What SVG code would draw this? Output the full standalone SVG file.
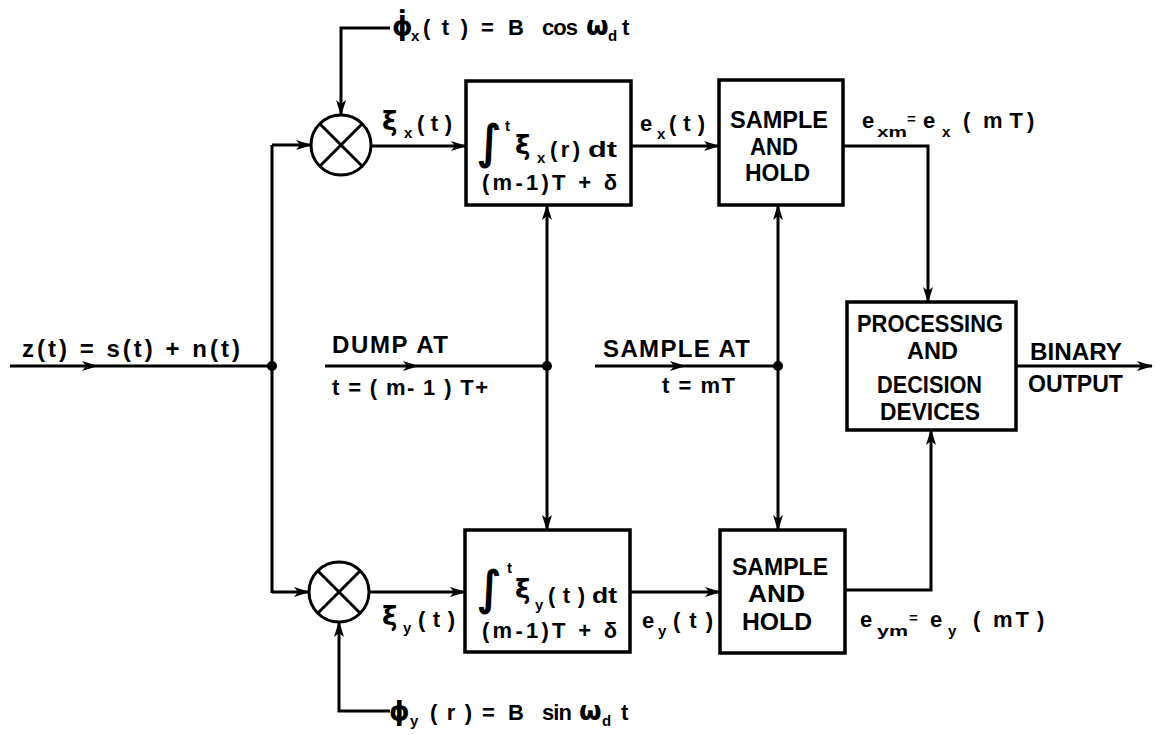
<svg xmlns="http://www.w3.org/2000/svg" width="1156" height="735" viewBox="0 0 1156 735">
<defs>
<style>
.ln{fill:none;stroke:#000;stroke-width:3;stroke-linejoin:miter;stroke-linecap:butt}
.box{fill:#fff;stroke:#000;stroke-width:3.5}
.t{font-family:"Liberation Sans",Arial,sans-serif;font-weight:bold;font-size:22px;fill:#000}
.g{font-family:"DejaVu Sans",sans-serif;font-weight:bold;font-size:26px;fill:#000}
.b{font-family:"Liberation Sans",Arial,sans-serif;font-weight:bold;font-size:24px;fill:#000}
.s{font-family:"Liberation Sans",Arial,sans-serif;font-weight:bold;font-size:15px;fill:#000}
.i{font-family:"DejaVu Sans",sans-serif;font-size:46px;fill:#000;stroke:#000;stroke-width:1.5}
.dot{fill:#000}
</style>
<marker id="ah" viewBox="0 0 16 10" refX="15" refY="5" markerWidth="16" markerHeight="10" orient="auto" markerUnits="userSpaceOnUse">
<path d="M0,0 L16,5 L0,10 L4,5 z" fill="#000"/>
</marker>
</defs>

<g id="connectors">
<path class="ln" d="M10,366 L97,366 L272,366" marker-mid="url(#ah)"/>
<path class="ln" d="M272,145 L272,593"/>
<path class="ln" d="M272,145 L311,145" marker-end="url(#ah)"/>
<path class="ln" d="M272,592 L309,592" marker-end="url(#ah)"/>
<circle class="dot" cx="272" cy="366" r="5"/>
<path class="ln" d="M390,28 L341,28 L341,115" marker-end="url(#ah)"/>
<path class="ln" d="M390,711 L339,711 L339,622" marker-end="url(#ah)"/>
<path class="ln" d="M371,146 L466,146" marker-end="url(#ah)"/>
<path class="ln" d="M631,146 L719,146" marker-end="url(#ah)"/>
<path class="ln" d="M843,146 L928,146 L928,302" marker-end="url(#ah)"/>
<path class="ln" d="M369,592 L465,592" marker-end="url(#ah)"/>
<path class="ln" d="M630,592 L720,592" marker-end="url(#ah)"/>
<path class="ln" d="M845,590 L931,590 L931,430" marker-end="url(#ah)"/>
<path class="ln" d="M1016,366 L1152,366" marker-end="url(#ah)"/>
<path class="ln" d="M325,366 L418,366 L547,366" marker-mid="url(#ah)"/>
<path class="ln" d="M547,366 L547,205" marker-end="url(#ah)"/>
<path class="ln" d="M547,366 L547,530" marker-end="url(#ah)"/>
<circle class="dot" cx="547" cy="366" r="5"/>
<path class="ln" d="M595,366 L685,366 L778,366" marker-mid="url(#ah)"/>
<path class="ln" d="M778,366 L778,205" marker-end="url(#ah)"/>
<path class="ln" d="M778,366 L778,530" marker-end="url(#ah)"/>
<circle class="dot" cx="778" cy="366" r="5"/>
</g>

<g id="mult_x">
<circle class="ln" cx="341" cy="145" r="30"/>
<path class="ln" d="M320,124 L362,166 M362,124 L320,166"/>
</g>
<g id="mult_y">
<circle class="ln" cx="339" cy="592" r="30"/>
<path class="ln" d="M318,571 L360,613 M360,571 L318,613"/>
</g>

<g id="int_x">
<rect class="box" x="466" y="81" width="165" height="124"/>
<text class="i" x="477" y="158">∫</text>
<text class="s" x="505" y="131">t</text>
<text class="g" x="515" y="154">ξ</text>
<text class="s" x="537" y="163">x</text>
<text class="t" x="550" y="157" textLength="30" lengthAdjust="spacing">( r )</text>
<text class="t" x="588" y="157" textLength="29" lengthAdjust="spacingAndGlyphs">dt</text>
<text class="t" x="482" y="190" textLength="135" lengthAdjust="spacing">(m-1)T + δ</text>
</g>
<g id="int_y">
<rect class="box" x="465" y="530" width="165" height="122"/>
<text class="i" x="477" y="604">∫</text>
<text class="s" x="507" y="573">t</text>
<text class="g" x="515" y="598">ξ</text>
<text class="s" x="535" y="610">y</text>
<text class="t" x="548" y="603" textLength="37" lengthAdjust="spacing">( t )</text>
<text class="t" x="592" y="603" textLength="25" lengthAdjust="spacingAndGlyphs">dt</text>
<text class="t" x="482" y="638" textLength="135" lengthAdjust="spacing">(m-1)T + δ</text>
</g>

<g id="sh_x">
<rect class="box" x="719" y="80" width="124" height="125"/>
<text class="b" x="730" y="128" textLength="98" lengthAdjust="spacingAndGlyphs">SAMPLE</text>
<text class="b" x="750" y="155" textLength="48" lengthAdjust="spacingAndGlyphs">AND</text>
<text class="b" x="745" y="181" textLength="65" lengthAdjust="spacingAndGlyphs">HOLD</text>
</g>
<g id="sh_y">
<rect class="box" x="720" y="530" width="125" height="123"/>
<text class="b" x="732" y="575" textLength="96" lengthAdjust="spacingAndGlyphs">SAMPLE</text>
<text class="b" x="748" y="602" textLength="57" lengthAdjust="spacingAndGlyphs">AND</text>
<text class="b" x="742" y="630" textLength="70" lengthAdjust="spacingAndGlyphs">HOLD</text>
</g>

<g id="proc">
<rect class="box" x="847" y="302" width="169" height="128"/>
<text class="b" x="857" y="332" textLength="146" lengthAdjust="spacingAndGlyphs">PROCESSING</text>
<text class="b" x="907" y="359" textLength="51" lengthAdjust="spacingAndGlyphs">AND</text>
<text class="b" x="877" y="393" textLength="105" lengthAdjust="spacingAndGlyphs">DECISION</text>
<text class="b" x="880" y="420" textLength="100" lengthAdjust="spacingAndGlyphs">DEVICES</text>
</g>

<g id="labels">
<text class="b" x="22" y="357" textLength="218" lengthAdjust="spacing">z(t) = s(t) + n(t)</text>
<text class="g" x="392" y="35">ϕ̇</text>
<text class="s" x="411" y="41">x</text>
<text class="t" x="423" y="35" textLength="45" lengthAdjust="spacing">( t )</text>
<text class="t" x="481" y="35">=</text>
<text class="t" x="508" y="35">B</text>
<text class="t" x="542" y="35" textLength="36" lengthAdjust="spacing">cos</text>
<text class="g" x="586" y="35">ω</text>
<text class="s" x="608" y="41">d</text>
<text class="t" x="622" y="35">t</text>
<text class="g" x="389" y="720">ϕ</text>
<text class="s" x="410" y="726">y</text>
<text class="t" x="430" y="720" textLength="42" lengthAdjust="spacing">( r )</text>
<text class="t" x="482" y="720">=</text>
<text class="t" x="508" y="720">B</text>
<text class="t" x="542" y="720" textLength="30" lengthAdjust="spacing">sin</text>
<text class="g" x="579" y="720">ω</text>
<text class="s" x="602" y="726">d</text>
<text class="t" x="621" y="720">t</text>
<text class="g" x="382" y="130">ξ</text>
<text class="s" x="404" y="138">x</text>
<text class="t" x="417" y="131" textLength="35" lengthAdjust="spacing">( t )</text>
<text class="g" x="382" y="625">ξ</text>
<text class="s" x="403" y="633">y</text>
<text class="t" x="418" y="627" textLength="37" lengthAdjust="spacing">( t )</text>
<text class="t" x="640" y="131">e</text>
<text class="s" x="657" y="139">x</text>
<text class="t" x="669" y="131" textLength="36" lengthAdjust="spacing">( t )</text>
<text class="t" x="642" y="628">e</text>
<text class="s" x="658" y="636">y</text>
<text class="t" x="673" y="628" textLength="40" lengthAdjust="spacing">( t )</text>
<text class="t" x="862" y="128">e</text>
<text class="s" x="877" y="137" textLength="30" lengthAdjust="spacingAndGlyphs">xm</text>
<text class="s" x="907" y="124">=</text>
<text class="t" x="923" y="128">e</text>
<text class="s" x="942" y="137">x</text>
<text class="t" x="963" y="128">(</text>
<text class="t" x="983" y="128" textLength="40" lengthAdjust="spacing">mT</text>
<text class="t" x="1027" y="128">)</text>
<text class="t" x="860" y="627">e</text>
<text class="s" x="877" y="636" textLength="31" lengthAdjust="spacingAndGlyphs">ym</text>
<text class="s" x="909" y="623">=</text>
<text class="t" x="930" y="627">e</text>
<text class="s" x="948" y="636">y</text>
<text class="t" x="973" y="627">(</text>
<text class="t" x="993" y="627" textLength="36" lengthAdjust="spacing">mT</text>
<text class="t" x="1037" y="627">)</text>
<text class="b" x="332" y="353" textLength="116" lengthAdjust="spacing">DUMP AT</text>
<text class="t" x="332" y="395" textLength="156" lengthAdjust="spacing">t = ( m- 1 ) T+</text>
<text class="b" x="603" y="357" textLength="147" lengthAdjust="spacing">SAMPLE AT</text>
<text class="t" x="662" y="393" textLength="73" lengthAdjust="spacing">t = mT</text>
<text class="b" x="1030" y="360" textLength="92" lengthAdjust="spacingAndGlyphs">BINARY</text>
<text class="b" x="1028" y="392" textLength="95" lengthAdjust="spacingAndGlyphs">OUTPUT</text>
</g>
</svg>
